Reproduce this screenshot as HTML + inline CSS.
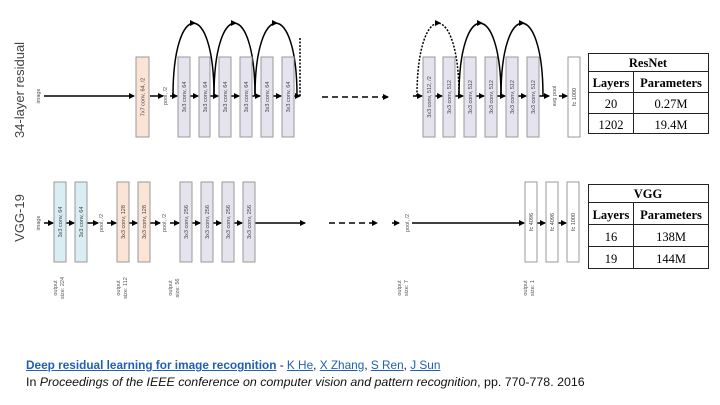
<!DOCTYPE html>
<html><head><meta charset="utf-8"><style>
body{margin:0;width:720px;height:405px;background:#fff;overflow:hidden;position:relative;font-family:"Liberation Sans",sans-serif}
.cit{position:absolute;left:26px;color:#111;white-space:nowrap}
.cit a{color:#1f5fb4;text-decoration:underline}
</style></head><body>
<svg width="720" height="405" style="position:absolute;left:0;top:0" font-family="Liberation Sans, sans-serif">
<defs>
<marker id="ah" markerWidth="6" markerHeight="6" refX="5" refY="3" orient="auto" markerUnits="userSpaceOnUse"><path d="M0,0 L6,3 L0,6z" fill="#000"/></marker>
</defs>
<g fill="#444" font-size="13">
<text transform="translate(24,90) rotate(-90)" text-anchor="middle">34-layer residual</text>
<text transform="translate(24,218) rotate(-90)" text-anchor="middle">VGG-19</text>
</g>
<g font-size="5.5" fill="#555" text-anchor="middle">
<text transform="translate(40,96) rotate(-90)">image</text>
<text transform="translate(167,96) rotate(-90)">pool, /2</text>
<text transform="translate(556,96) rotate(-90)">avg pool</text>
<text transform="translate(40,223) rotate(-90)">image</text>
<text transform="translate(103,223) rotate(-90)">pool, /2</text>
<text transform="translate(166,223) rotate(-90)">pool, /2</text>
<text transform="translate(409,223) rotate(-90)">pool, /2</text>
<text transform="translate(57,288) rotate(-90)">output</text><text transform="translate(64,288) rotate(-90)">size: 224</text>
<text transform="translate(120,288) rotate(-90)">output</text><text transform="translate(127,288) rotate(-90)">size: 112</text>
<text transform="translate(172,288) rotate(-90)">output</text><text transform="translate(179,288) rotate(-90)">size: 56</text>
<text transform="translate(401,288) rotate(-90)">output</text><text transform="translate(408,288) rotate(-90)">size: 7</text>
<text transform="translate(527,288) rotate(-90)">output</text><text transform="translate(534,288) rotate(-90)">size: 1</text>
</g>
<g stroke="#000" stroke-width="1.5" fill="none">
<line x1="44" y1="96" x2="134" y2="96" marker-end="url(#ah)"/>
<line x1="150" y1="96" x2="163" y2="96" marker-end="url(#ah)"/>
<line x1="170" y1="96" x2="177" y2="96" marker-end="url(#ah)"/>
<line x1="190" y1="96" x2="198" y2="96" marker-end="url(#ah)"/>
<line x1="210" y1="96" x2="218" y2="96" marker-end="url(#ah)"/>
<line x1="231" y1="96" x2="239" y2="96" marker-end="url(#ah)"/>
<line x1="252" y1="96" x2="260" y2="96" marker-end="url(#ah)"/>
<line x1="273" y1="96" x2="281" y2="96" marker-end="url(#ah)"/>
<line x1="294" y1="96" x2="300" y2="96" marker-end="url(#ah)"/>
<line x1="322" y1="97" x2="388" y2="97" stroke-dasharray="6,4" marker-end="url(#ah)"/>
<line x1="413" y1="96" x2="422" y2="96" marker-end="url(#ah)"/>
<line x1="435" y1="96" x2="442" y2="96" marker-end="url(#ah)"/>
<line x1="455" y1="96" x2="463" y2="96" marker-end="url(#ah)"/>
<line x1="476" y1="96" x2="484" y2="96" marker-end="url(#ah)"/>
<line x1="497" y1="96" x2="505" y2="96" marker-end="url(#ah)"/>
<line x1="518" y1="96" x2="526" y2="96" marker-end="url(#ah)"/>
<line x1="539" y1="96" x2="549" y2="96" marker-end="url(#ah)"/>
<line x1="559" y1="96" x2="567" y2="96" marker-end="url(#ah)"/>
<path d="M173,96 C173,-1 214,-1 214,96"/>
<path d="M214,96 C214,-1 255,-1 255,96"/>
<path d="M255,96 C255,-1 297,-1 297,96"/>
<path d="M300,96 L300,38" stroke-dasharray="2,1.5"/>
<path d="M417,96 C417,-1 459,-1 459,96" stroke-dasharray="2,1.5"/>
<path d="M459,96 C459,-1 501,-1 501,96"/>
<path d="M501,96 C501,-1 543,-1 543,96"/>
</g>
<g fill="#000">
<path d="M190,20 l6,3 l-6,3z"/><path d="M231,20 l6,3 l-6,3z"/><path d="M272,20 l6,3 l-6,3z"/>
<path d="M435,20 l6,3 l-6,3z"/><path d="M477,20 l6,3 l-6,3z"/><path d="M519,20 l6,3 l-6,3z"/>
</g>
<g stroke="#000" stroke-width="1.5" fill="none">
<line x1="44" y1="223" x2="53" y2="223" marker-end="url(#ah)"/>
<line x1="66" y1="223" x2="74" y2="223" marker-end="url(#ah)"/>
<line x1="87" y1="223" x2="98" y2="223" marker-end="url(#ah)"/>
<line x1="107" y1="223" x2="116" y2="223" marker-end="url(#ah)"/>
<line x1="129" y1="223" x2="137" y2="223" marker-end="url(#ah)"/>
<line x1="150" y1="223" x2="160" y2="223" marker-end="url(#ah)"/>
<line x1="170" y1="223" x2="179" y2="223" marker-end="url(#ah)"/>
<line x1="192" y1="223" x2="200" y2="223" marker-end="url(#ah)"/>
<line x1="213" y1="223" x2="221" y2="223" marker-end="url(#ah)"/>
<line x1="234" y1="223" x2="242" y2="223" marker-end="url(#ah)"/>
<line x1="255" y1="223" x2="305" y2="223" marker-end="url(#ah)"/>
<line x1="329" y1="223" x2="377" y2="223" stroke-dasharray="6,4" marker-end="url(#ah)"/>
<line x1="392" y1="223" x2="399" y2="223" marker-end="url(#ah)"/>
<line x1="412" y1="223" x2="524" y2="223" marker-end="url(#ah)"/>
<line x1="537" y1="223" x2="545" y2="223" marker-end="url(#ah)"/>
<line x1="558" y1="223" x2="566" y2="223" marker-end="url(#ah)"/>
</g>
<g stroke="#999" stroke-width="1">
<rect x="136" y="57" width="13" height="80" fill="#fbe4d5"/>
<g fill="#e4e3ee">
<rect x="178" y="57" width="12" height="80"/><rect x="199" y="57" width="11" height="80"/><rect x="219" y="57" width="12" height="80"/>
<rect x="240" y="57" width="12" height="80"/><rect x="261" y="57" width="12" height="80"/><rect x="282" y="57" width="12" height="80"/>
<rect x="423" y="57" width="12" height="80"/><rect x="443" y="57" width="12" height="80"/><rect x="464" y="57" width="12" height="80"/>
<rect x="485" y="57" width="12" height="80"/><rect x="506" y="57" width="12" height="80"/><rect x="527" y="57" width="12" height="80"/>
<rect x="180" y="182" width="12" height="80"/><rect x="201" y="182" width="12" height="80"/><rect x="222" y="182" width="12" height="80"/><rect x="243" y="182" width="12" height="80"/>
</g>
<rect x="568" y="57" width="12" height="80" fill="#fff"/>
<rect x="54" y="182" width="12" height="80" fill="#d9edf3"/><rect x="75" y="182" width="12" height="80" fill="#d9edf3"/>
<rect x="117" y="182" width="12" height="80" fill="#fbe4d5"/><rect x="138" y="182" width="12" height="80" fill="#fbe4d5"/>
<rect x="525" y="182" width="12" height="80" fill="#fff"/><rect x="546" y="182" width="12" height="80" fill="#fff"/><rect x="567" y="182" width="12" height="80" fill="#fff"/>
</g>
<g font-size="5.5" fill="#444" text-anchor="middle">
<text transform="translate(144.5,97) rotate(-90)">7x7 conv, 64, /2</text>
<text transform="translate(186,97) rotate(-90)">3x3 conv, 64</text><text transform="translate(207,97) rotate(-90)">3x3 conv, 64</text>
<text transform="translate(227,97) rotate(-90)">3x3 conv, 64</text><text transform="translate(248,97) rotate(-90)">3x3 conv, 64</text>
<text transform="translate(269,97) rotate(-90)">3x3 conv, 64</text><text transform="translate(290,97) rotate(-90)">3x3 conv, 64</text>
<text transform="translate(431,97) rotate(-90)">3x3 conv, 512, /2</text><text transform="translate(451,97) rotate(-90)">3x3 conv, 512</text>
<text transform="translate(472,97) rotate(-90)">3x3 conv, 512</text><text transform="translate(493,97) rotate(-90)">3x3 conv, 512</text>
<text transform="translate(514,97) rotate(-90)">3x3 conv, 512</text><text transform="translate(535,97) rotate(-90)">3x3 conv, 512</text>
<text transform="translate(576,97) rotate(-90)">fc 1000</text>
<text transform="translate(62,222) rotate(-90)">3x3 conv, 64</text><text transform="translate(83,222) rotate(-90)">3x3 conv, 64</text>
<text transform="translate(125,222) rotate(-90)">3x3 conv, 128</text><text transform="translate(146,222) rotate(-90)">3x3 conv, 128</text>
<text transform="translate(188,222) rotate(-90)">3x3 conv, 256</text><text transform="translate(209,222) rotate(-90)">3x3 conv, 256</text>
<text transform="translate(230,222) rotate(-90)">3x3 conv, 256</text><text transform="translate(251,222) rotate(-90)">3x3 conv, 256</text>
<text transform="translate(533,222) rotate(-90)">fc 4096</text><text transform="translate(554,222) rotate(-90)">fc 4096</text>
<text transform="translate(575,222) rotate(-90)">fc 1000</text>
</g>
<g stroke="#222" stroke-width="1" fill="none">
<rect x="588.5" y="53.5" width="120" height="80"/>
<line x1="588" y1="71.5" x2="709" y2="71.5"/><line x1="588" y1="92.5" x2="709" y2="92.5"/><line x1="588" y1="113.5" x2="709" y2="113.5"/>
<line x1="633.5" y1="71" x2="633.5" y2="134"/>
<rect x="588.5" y="184.5" width="120" height="84"/>
<line x1="588" y1="202.5" x2="709" y2="202.5"/><line x1="588" y1="224.5" x2="709" y2="224.5"/><line x1="588" y1="246.5" x2="709" y2="246.5"/>
<line x1="633.5" y1="202" x2="633.5" y2="269"/>
</g>
<g font-family="Liberation Serif, serif" font-size="12.5" fill="#000" text-anchor="middle">
<text x="648" y="67" font-weight="bold">ResNet</text>
<text x="611" y="87" font-weight="bold">Layers</text><text x="671" y="87" font-weight="bold">Parameters</text>
<text x="611" y="108">20</text><text x="671" y="108">0.27M</text>
<text x="611" y="129">1202</text><text x="671" y="129">19.4M</text>
<text x="648" y="198" font-weight="bold">VGG</text>
<text x="611" y="219" font-weight="bold">Layers</text><text x="671" y="219" font-weight="bold">Parameters</text>
<text x="611" y="241">16</text><text x="671" y="241">138M</text>
<text x="611" y="263">19</text><text x="671" y="263">144M</text>
</g>
</svg>
<div class="cit" style="top:358px;font-size:11.8px"><a style="font-weight:bold">Deep residual learning for image recognition</a> - <a>K He</a>, <a>X Zhang</a>, <a>S Ren</a>, <a>J Sun</a></div>
<div class="cit" style="top:375px;font-size:12.4px">In <i>Proceedings of the IEEE conference on computer vision and pattern recognition</i>, pp. 770-778. 2016</div>
</body></html>
